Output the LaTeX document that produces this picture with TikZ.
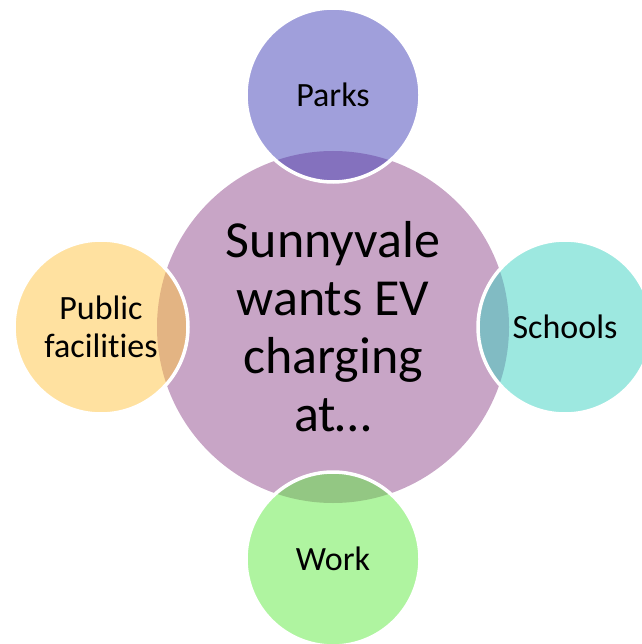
\documentclass[tikz,border=0pt]{standalone}
\usepackage{fontspec}
\setmainfont{Carlito}[Ligatures=CommonOff]
\usetikzlibrary{positioning}

\definecolor{hubfill}{RGB}{200,165,198}
\definecolor{parksfill}{RGB}{65,63,183}
\definecolor{schoolsfill}{RGB}{59,209,193}
\definecolor{workfill}{RGB}{95,233,65}
\definecolor{publicfill}{RGB}{255,195,65}

\begin{document}
\begin{tikzpicture}[x=1pt, y=-1pt, node distance=232pt, on grid,
				 every node/.style={circle, inner sep=0pt, outer sep=0pt, align=center},
				 sat/.style={minimum size=174pt, fill=#1, fill opacity=0.5, text opacity=1,
				 draw=white, line width=3.5pt, font=\fontsize{34}{38}\selectfont}]

		  		\useasboundingbox (0,0) rectangle (641,644);

		  		\node[fill=hubfill, minimum size=352pt, font=\fontsize{52}{58}\selectfont] (hub) at (333,327) {Sunnyvale\\wants EV\\charging\\at…};

		  		\node[sat=parksfill, above=of hub] (parks) {Parks};
		  		\node[sat=schoolsfill, right=of hub] (schools) {Schools};
		  		\node[sat=workfill, below=of hub] (work) {Work};
		  		\node[sat=publicfill, left=of hub] (public) {Public\\facilities};

		  	\end{tikzpicture}
\end{document}
